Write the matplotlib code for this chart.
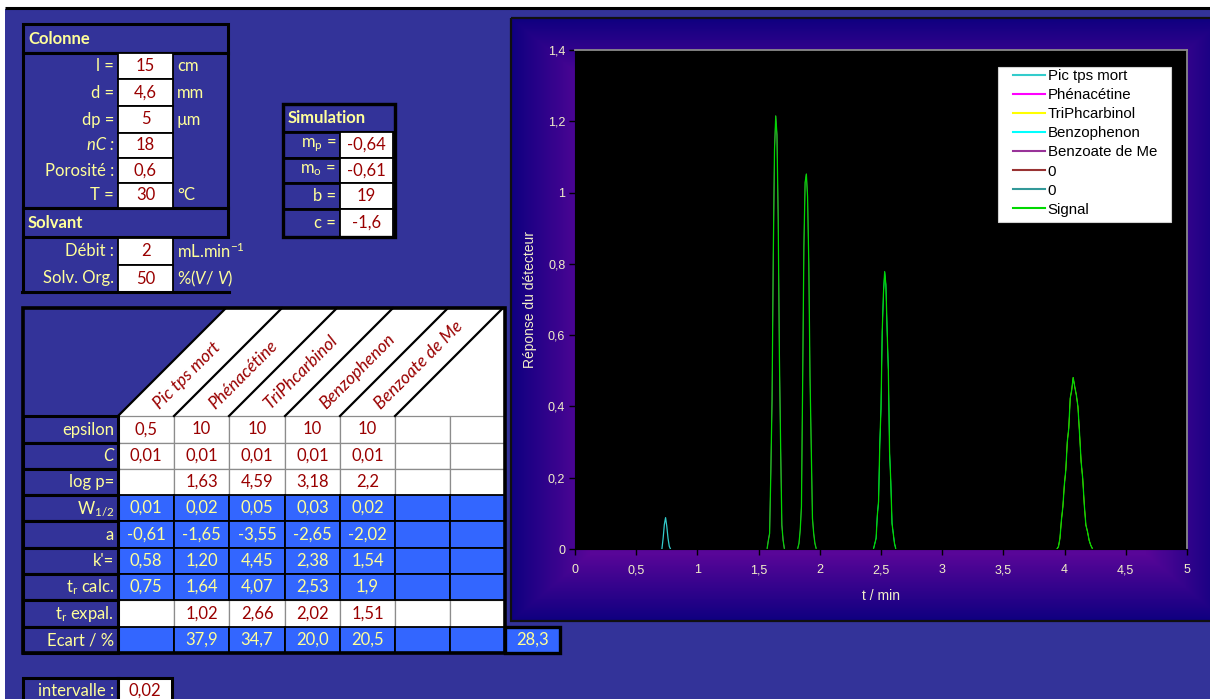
import numpy as np
import matplotlib
matplotlib.use("Agg")
import matplotlib.pyplot as plt
from matplotlib.patches import Rectangle, Polygon

plt.rcParams["mathtext.fontset"] = "custom"
plt.rcParams["mathtext.rm"] = "Lato"
plt.rcParams["mathtext.it"] = "Lato:italic"

# ---------------- data ----------------
colonne_labels = ["l =", "d =", "dp =", "nC :", "Porosité :", "T ="]
colonne_values = ["15", "4,6", "5", "18", "0,6", "30"]
colonne_units = ["cm", "mm", "µm", "", "", "°C"]
solvant_labels = ["Débit :", "Solv. Org."]
solvant_values = ["2", "50"]
solvant_units = ["mL.min$^{-1}$", "%($\\mathit{V/\\ V}$)"]
simulation_labels = ["m$_\\mathregular{p}$ =", "m$_\\mathregular{o}$ =", "b =", "c ="]
simulation_values = ["-0,64", "-0,61", "19", "-1,6"]

compounds = ["Pic tps mort", "Phénacétine", "TriPhcarbinol", "Benzophenon", "Benzoate de Me"]
row_labels = ["epsilon", "C", "log p=", "W$_\\mathregular{1/2}$", "a", "k'=",
              "t$_\\mathregular{r}$ calc.", "t$_\\mathregular{r}$ expal.", "Ecart / %"]
epsilon = ["0,5", "10", "10", "10", "10"]
conc = ["0,01", "0,01", "0,01", "0,01", "0,01"]
log_p = ["", "1,63", "4,59", "3,18", "2,2"]
w_half = ["0,01", "0,02", "0,05", "0,03", "0,02"]
a_coef = ["-0,61", "-1,65", "-3,55", "-2,65", "-2,02"]
k_prime = ["0,58", "1,20", "4,45", "2,38", "1,54"]
tr_calc = ["0,75", "1,64", "4,07", "2,53", "1,9"]
tr_expal = ["", "1,02", "2,66", "2,02", "1,51"]
ecart = ["", "37,9", "34,7", "20,0", "20,5"]
ecart_mean = "28,3"
intervalle = "0,02"

# chromatogram (t / min, detector response)
t_mort = [0.71, 0.72, 0.73, 0.74, 0.75, 0.76, 0.77, 0.78]
y_mort = [0.0, 0.030, 0.069, 0.088, 0.063, 0.030, 0.008, 0.0]
t_phen = [1.57, 1.58, 1.59, 1.60, 1.61, 1.62, 1.63, 1.64, 1.65, 1.66, 1.67, 1.68, 1.69, 1.70, 1.71]
y_phen = [0.002, 0.025, 0.044, 0.217, 0.418, 0.825, 1.120, 1.215, 1.162, 0.928, 0.540, 0.287, 0.067, 0.025, 0.002]
t_bzme = [1.82, 1.83, 1.84, 1.85, 1.86, 1.87, 1.88, 1.89, 1.90, 1.91, 1.92, 1.93, 1.94, 1.95, 1.96, 1.97]
y_bzme = [0.002, 0.016, 0.053, 0.119, 0.470, 0.848, 1.028, 1.052, 0.989, 0.802, 0.484, 0.287, 0.086, 0.044, 0.016, 0.002]
t_bzph = [2.44, 2.45, 2.46, 2.47, 2.48, 2.49, 2.50, 2.51, 2.52, 2.53,
          2.54, 2.55, 2.56, 2.57, 2.58, 2.59, 2.60, 2.61, 2.62]
y_bzph = [0.002, 0.016, 0.030, 0.095, 0.133, 0.292, 0.395, 0.610, 0.717, 0.778,
          0.741, 0.614, 0.502, 0.273, 0.189, 0.072, 0.044, 0.016, 0.002]
t_triph = [3.938, 3.950, 3.962, 3.974, 3.986, 3.998, 4.010, 4.022, 4.034, 4.046, 4.058, 4.070,
           4.083, 4.096, 4.109, 4.122, 4.135, 4.148, 4.161, 4.174, 4.187, 4.200, 4.213, 4.226]
y_triph = [0.0, 0.007, 0.030, 0.081, 0.119, 0.180, 0.222, 0.301, 0.339, 0.423, 0.446, 0.481,
           0.455, 0.432, 0.399, 0.325, 0.245, 0.198, 0.123, 0.067, 0.049, 0.025, 0.011, 0.002]

legend_labels = ["Pic tps mort", "Phénacétine", "TriPhcarbinol", "Benzophenon",
                 "Benzoate de Me", "0", "0", "Signal"]
x_ticks = [0, 0.5, 1, 1.5, 2, 2.5, 3, 3.5, 4, 4.5, 5]
y_ticks = [0, 0.2, 0.4, 0.6, 0.8, 1.0, 1.2, 1.4]

# ---------------- style ----------------
PAGE = "#333399"
CELLB = "#3366FF"
LAB = "#FFFF99"
VAL = "#990000"
FONT = "Lato"
FS = 12
CFONT = "Liberation Sans"
TXT = "#F2EFC8"

fig = plt.figure(figsize=(12.1, 6.99), dpi=100)
fig.patch.set_facecolor("white")
bg = fig.add_axes([0, 0, 1, 1])
bg.axis("off")

bg.add_patch(Rectangle((5, 9), 1220, 700, facecolor=PAGE, edgecolor="none", zorder=0))
bg.plot([5, 1210], [7.5, 7.5], color="black", lw=2.2, solid_capstyle="butt", zorder=1)


def box(x0, y0, x1, y1, fc, ec="black", lw=2.0, z=2):
    bg.add_patch(Rectangle((x0, y0), x1 - x0, y1 - y0, facecolor=fc, edgecolor=ec,
                           linewidth=lw, zorder=z))


def txt(x, y, s, c=LAB, ha="right", fs=FS, **kw):
    bg.text(x, y, s, color=c, ha=ha, va="center", fontsize=fs, family=FONT, zorder=8, **kw)


# ---- Colonne block ----
box(23, 24, 228, 53, PAGE, lw=2.2)
txt(28, 39, "Colonne", ha="left", weight="bold")
box(23, 53, 228, 208, PAGE, lw=2.2)
col_rows = [53, 79, 106, 133, 158, 183, 208]
for i, (lab, val, unit) in enumerate(zip(colonne_labels, colonne_values, colonne_units)):
    y0, y1 = col_rows[i], col_rows[i + 1]
    yc = (y0 + y1) / 2
    box(118, y0, 173, y1, "white", lw=1.3, z=3)
    txt(114, yc, lab, style="italic" if lab.startswith("nC") else "normal")
    txt(145.5, yc, val, VAL, ha="center")
    txt(177, yc, unit, ha="left")

box(23, 208, 228, 237, PAGE, lw=2.2)
txt(28, 223, "Solvant", ha="left", weight="bold")
sol_rows = [238, 265, 292]
for i, (lab, val, unit) in enumerate(zip(solvant_labels, solvant_values, solvant_units)):
    y0, y1 = sol_rows[i], sol_rows[i + 1]
    yc = (y0 + y1) / 2
    box(118, y0, 173, y1, "white", lw=1.3, z=3)
    txt(114, yc, lab)
    txt(145.5, yc, val, VAL, ha="center")
    txt(177, yc, unit, ha="left")
bg.plot([23, 23], [237, 292], color="black", lw=2.2, zorder=4)
bg.plot([22, 229], [292, 292], color="black", lw=2.2, zorder=4)

# ---- Simulation block ----
box(283, 104, 395, 132, PAGE, lw=2.2)
txt(288, 118, "Simulation", ha="left", weight="bold")
sim_rows = [132, 158, 183, 209, 237]
for i, (lab, val) in enumerate(zip(simulation_labels, simulation_values)):
    y0, y1 = sim_rows[i], sim_rows[i + 1]
    yc = (y0 + y1) / 2
    box(283, y0, 340, y1, PAGE, lw=2.0)
    box(340, y0, 393, y1, "white", lw=1.3, z=3)
    txt(336, yc, lab)
    txt(366.5, yc, val, VAL, ha="center")
box(283, 104, 395, 237, "none", lw=2.4, z=4)

# ---- main table ----
cols = [23, 118, 174, 229, 285, 340, 395, 450, 505]
rows = [416, 443, 469, 495, 521, 548, 574, 600, 627, 653]
bg.add_patch(Polygon([(226, 308), (505, 308), (505, 416), (118, 416)], closed=True,
                     facecolor="white", edgecolor="none", zorder=1))
for c in cols[1:7]:
    bg.plot([c, c + 108], [416, 308], color="black", lw=1.6, zorder=4)
for i, name in enumerate(compounds):
    y0 = 406
    xm = (cols[1 + i] + cols[2 + i]) / 2 + (416 - y0)
    bg.text(xm, y0, name, rotation=45, rotation_mode="anchor", ha="left", va="center",
            color=VAL, fontsize=12.5, family=FONT, style="italic", zorder=8)

table_rows = [epsilon, conc, log_p, w_half, a_coef, k_prime, tr_calc, tr_expal, ecart]
row_blue = [False, False, False, True, True, True, True, False, True]
for r, vals in enumerate(table_rows):
    y0, y1 = rows[r], rows[r + 1]
    yc = (y0 + y1) / 2
    box(23, y0, 118, y1, PAGE, lw=2.2, z=5)
    txt(114, yc, row_labels[r], style="italic" if row_labels[r] == "C" else "normal")
    for c in range(7):
        x0, x1 = cols[1 + c], cols[2 + c]
        if row_blue[r]:
            box(x0, y0, x1, y1, CELLB, ec="black", lw=1.3, z=3)
        else:
            box(x0, y0, x1, y1, "white", ec="#8c8c8c", lw=0.9, z=2)
        if c < len(vals) and vals[c]:
            txt((x0 + x1) / 2, yc, vals[c], LAB if row_blue[r] else VAL, ha="center")
box(23, 308, 505, 653, "none", lw=2.6, z=6)
box(505, 627, 560, 653, CELLB, lw=2.4, z=6)
txt(532.5, 640, ecart_mean, ha="center")

# ---- intervalle ----
box(23, 678, 118, 712, PAGE, lw=2.2)
box(118, 678, 172, 712, "white", lw=2.2, z=3)
txt(114, 691, "intervalle :")
txt(145, 691, intervalle, VAL, ha="center")

# ---- chart panel gradient ----
px0, px1, py0, py1 = 511, 1225, 18, 621
W, H = px1 - px0, py1 - py0
xx, yy = np.meshgrid(np.arange(W) + 0.5, np.arange(H) + 0.5)
tt = np.maximum(np.abs(xx - W / 2) / (W / 2), np.abs(yy - H / 2) / (H / 2))
s = np.clip((tt - 0.78) / 0.22, 0, 1)[..., None]
purple = np.array([88, 6, 152]) / 255.0
navy = np.array([14, 0, 128]) / 255.0
img = purple * (1 - s) + navy * s
bg.imshow(img, extent=(px0, px1, py1, py0), aspect="auto", zorder=1, interpolation="bilinear")
bg.add_patch(Rectangle((px0, py0), W, H, facecolor="none", edgecolor="#101010", linewidth=1.6, zorder=2))
bg.set_xlim(0, 1210)
bg.set_ylim(699, 0)

# ---------------- chart ----------------
ax = fig.add_axes([575 / 1210, 150 / 699, 612 / 1210, 499 / 699])
ax.set_facecolor("black")
ax.set_xlim(0, 5)
ax.set_ylim(0, 1.4)

sig_t, sig_y = [], []
for tt_, yy_ in [(t_phen, y_phen), (t_bzme, y_bzme), (t_bzph, y_bzph), (t_triph, y_triph)]:
    sig_t += list(tt_) + [np.nan]
    sig_y += list(yy_) + [np.nan]

lw = 0.9
ax.plot(t_mort, y_mort, color="#33CCCC", lw=lw, label=legend_labels[0], zorder=3)
ax.plot(t_phen, y_phen, color="#FF00FF", lw=0.5, label=legend_labels[1], zorder=2)
ax.plot(t_triph, y_triph, color="#FFFF00", lw=0.5, label=legend_labels[2], zorder=2)
ax.plot(t_bzph, y_bzph, color="#00FFFF", lw=0.5, label=legend_labels[3], zorder=2)
ax.plot(t_bzme, y_bzme, color="#993399", lw=0.5, label=legend_labels[4], zorder=2)
ax.plot([], [], color="#993333", lw=1.5, label=legend_labels[5])
ax.plot([], [], color="#339999", lw=1.5, label=legend_labels[6])
ax.plot(sig_t, sig_y, color="#00D800", lw=lw, label=legend_labels[7], zorder=4)

ax.set_xticks(x_ticks)
ax.set_xticklabels([f"{v:g}".replace(".", ",") for v in x_ticks])
ax.set_yticks(y_ticks)
ax.set_yticklabels([f"{v:g}".replace(".", ",") for v in y_ticks])
ax.tick_params(axis="both", direction="out", length=4, width=1, color="black",
               labelcolor=TXT, labelsize=9)
ax.tick_params(axis="x", pad=7)
ax.tick_params(axis="y", pad=3)
for lab in ax.get_xticklabels() + ax.get_yticklabels():
    lab.set_family(CFONT)
for side in ["top", "right"]:
    ax.spines[side].set_color("#8a8a8a")
    ax.spines[side].set_linewidth(1.3)
for side in ["left", "bottom"]:
    ax.spines[side].set_color("black")

fig.text(530 / 1210, 1 - 300 / 699, "Réponse du détecteur", rotation=90, ha="center", va="center",
         color=TXT, fontsize=10, family=CFONT)
fig.text(881 / 1210, 1 - 596 / 699, "t / min", ha="center", va="center",
         color=TXT, fontsize=10, family=CFONT)

# legend: white box, entries placed inside it
ax.add_patch(Rectangle((998 / 1210, 1 - 222 / 699), 173 / 1210, 155 / 699,
                       transform=fig.transFigure, facecolor="white", edgecolor="#d0d0d0",
                       linewidth=0.8, zorder=6, clip_on=False))
handles, labels = ax.get_legend_handles_labels()
leg = ax.legend(handles, labels, loc="upper left", bbox_to_anchor=(1013 / 1210, 1 - 69 / 699),
                bbox_transform=fig.transFigure, borderaxespad=0, frameon=False,
                prop={"family": CFONT, "size": 10.8}, labelspacing=0.34, handlelength=2.1,
                handletextpad=0.2, borderpad=0.0)
leg.set_zorder(7)
for h in leg.legend_handles:
    h.set_linewidth(1.5)

fig.savefig("out.png", dpi=100, facecolor=fig.get_facecolor())
